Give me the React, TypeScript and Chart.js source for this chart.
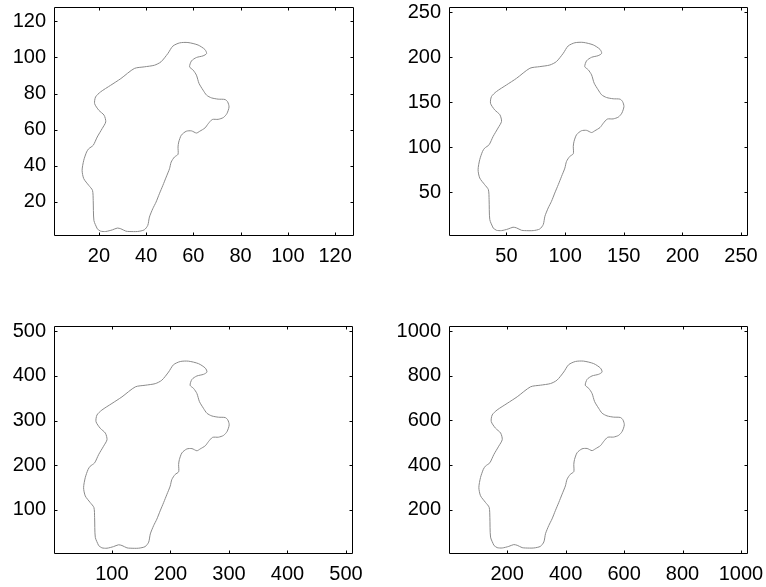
import React, { useEffect, useRef } from "react";
import { Chart, registerables } from "chart.js";

Chart.register(...registerables);

// Outline, in the units of the first (128 x 128) panel
const CONTOUR_X = [19.3, 17.9, 17.6, 17.3, 15.7, 13.6, 12.9, 13.6, 14.8, 15.7, 17.6, 19.3, 21.4, 22.9, 22.2, 20.0, 18.2, 18.6, 20.7, 25.0, 29.3, 35.0, 39.2, 43.5, 46.3, 49.2, 51.3, 54.2, 57.7, 62.0, 64.9, 65.6, 64.1, 61.3, 59.2, 58.4, 59.9, 61.3, 62.4, 64.1, 65.6, 67.7, 70.5, 73.4, 74.5, 75.1, 74.2, 72.7, 70.5, 68.0, 66.3, 64.9, 62.7, 61.3, 59.2, 57.0, 54.9, 53.8, 53.5, 53.5, 52.0, 50.6, 49.9, 48.5, 47.1, 45.6, 44.2, 42.8, 41.4, 40.7, 39.2, 36.4, 32.8, 31.4, 29.3, 27.8, 25.7, 22.9, 20.7];
const CONTOUR_Y = [5.0, 9.6, 20.7, 26.3, 29.1, 32.8, 37.4, 43.0, 47.6, 49.4, 51.3, 55.9, 60.6, 64.3, 68.0, 70.7, 74.4, 78.1, 80.9, 84.6, 88.3, 93.9, 94.8, 95.7, 97.6, 102.2, 106.3, 108.1, 108.3, 106.9, 104.4, 102.2, 100.9, 100.0, 98.1, 94.8, 93.0, 90.2, 85.6, 81.9, 79.1, 77.6, 76.9, 76.7, 75.4, 72.6, 68.9, 66.7, 65.7, 65.6, 63.3, 60.9, 59.1, 58.1, 59.3, 59.1, 56.9, 53.1, 50.4, 46.3, 44.8, 42.0, 38.3, 33.7, 29.1, 24.4, 19.8, 16.1, 11.5, 6.9, 4.4, 3.5, 3.5, 3.7, 5.0, 5.4, 4.4, 3.5, 3.7];

// Each panel shows the same outline at a different resolution
const PANEL_SCALES = [1, 2, 4, 8];
const AXIS_MIN = [1, 1, 1, 1];
const AXIS_MAX = [128, 256, 512, 1024];
const X_TICKS = [
  [20, 40, 60, 80, 100, 120],
  [50, 100, 150, 200, 250],
  [100, 200, 300, 400, 500],
  [200, 400, 600, 800, 1000],
];
const Y_TICKS = [
  [20, 40, 60, 80, 100, 120],
  [50, 100, 150, 200, 250],
  [100, 200, 300, 400, 500],
  [200, 400, 600, 800, 1000],
];

// Layout (pixels)
const PANELS = [
  { left: 0, top: 0, w: 383, h: 290, aL: 54, aT: 7, aR: 354, aB: 236 },
  { left: 383, top: 0, w: 383, h: 290, aL: 449, aT: 7, aR: 748, aB: 236 },
  { left: 0, top: 290, w: 383, h: 330, aL: 54, aT: 326, aR: 353, aB: 554 },
  { left: 383, top: 290, w: 383, h: 330, aL: 449, aT: 326, aR: 748, aB: 554 },
];
const X_AXIS_H = 50;
const FONT = { family: "'Liberation Sans', Arial, Helvetica, sans-serif", size: 20 };
const TICK_LEN = 3;

const boxPlugin = {
  id: "matlabBox",
  afterDraw(chart: any) {
    const { ctx, chartArea: a, scales } = chart;
    const L = Math.round(a.left) + 0.5;
    const T = Math.round(a.top) + 0.5;
    const R = Math.round(a.right) - 0.5;
    const B = Math.round(a.bottom) - 0.5;
    ctx.save();
    ctx.strokeStyle = "#000";
    ctx.lineWidth = 1;
    ctx.beginPath();
    ctx.rect(L, T, R - L, B - T);
    ctx.stroke();
    ctx.beginPath();
    for (const t of scales.x.ticks) {
      const px = Math.round(scales.x.getPixelForValue(t.value)) + 0.5;
      ctx.moveTo(px, B);
      ctx.lineTo(px, B - TICK_LEN);
      ctx.moveTo(px, T);
      ctx.lineTo(px, T + TICK_LEN);
    }
    for (const t of scales.y.ticks) {
      const py = Math.round(scales.y.getPixelForValue(t.value)) + 0.5;
      ctx.moveTo(L, py);
      ctx.lineTo(L + TICK_LEN, py);
      ctx.moveTo(R, py);
      ctx.lineTo(R - TICK_LEN, py);
    }
    ctx.stroke();
    ctx.restore();
  },
};

function Panel({ index }: { index: number }) {
  const ref = useRef<HTMLCanvasElement | null>(null);
  const p = PANELS[index];
  useEffect(() => {
    if (!ref.current) return;
    const s = PANEL_SCALES[index];
    const pts = CONTOUR_X.map((x, j) => ({ x: x * s, y: CONTOUR_Y[j] * s }));
    pts.push({ ...pts[0] });
    const yAxisW = p.aL - p.left;
    const chart = new Chart(ref.current, {
      type: "scatter",
      data: {
        datasets: [
          {
            data: pts,
            showLine: true,
            borderColor: "#8a8a8a",
            borderWidth: 1,
            pointRadius: 0,
            tension: 0.25,
            fill: false,
          },
        ],
      },
      options: {
        animation: false,
        responsive: false,
        events: [],
        layout: {
          padding: {
            left: 0,
            top: p.aT - p.top,
            right: p.left + p.w - p.aR,
            bottom: p.top + p.h - p.aB - X_AXIS_H,
          },
        },
        plugins: { legend: { display: false }, tooltip: { enabled: false } },
        scales: {
          x: {
            type: "linear",
            min: AXIS_MIN[index],
            max: AXIS_MAX[index],
            grid: { display: false },
            border: { display: false },
            ticks: {
              color: "#000",
              font: FONT,
              padding: 0,
              maxRotation: 0,
              autoSkip: false,
              callback: (v: any) => String(v),
            },
            afterBuildTicks: (sc: any) => {
              sc.ticks = X_TICKS[index].map((v) => ({ value: v }));
            },
            afterFit: (sc: any) => {
              sc.height = X_AXIS_H;
              sc.paddingLeft = 0;
              sc.paddingRight = 0;
              sc.paddingTop = 0;
              sc.paddingBottom = 0;
            },
          },
          y: {
            type: "linear",
            min: AXIS_MIN[index],
            max: AXIS_MAX[index],
            grid: { display: false },
            border: { display: false },
            ticks: {
              color: "#000",
              font: FONT,
              padding: 0,
              autoSkip: false,
              callback: (v: any) => String(v),
            },
            afterBuildTicks: (sc: any) => {
              sc.ticks = Y_TICKS[index].map((v) => ({ value: v }));
            },
            afterFit: (sc: any) => {
              sc.width = yAxisW;
              sc.paddingLeft = 0;
              sc.paddingRight = 0;
              sc.paddingTop = 0;
              sc.paddingBottom = 0;
            },
          },
        },
      } as any,
      plugins: [boxPlugin],
    });
    return () => chart.destroy();
  }, [index]);
  return (
    <canvas
      ref={ref}
      width={p.w}
      height={p.h}
      style={{ position: "absolute", left: p.left, top: p.top, width: p.w, height: p.h }}
    />
  );
}

export default function App() {
  return (
    <div
      style={{
        position: "absolute",
        left: 0,
        top: 0,
        width: 766,
        height: 587,
        background: "#fff",
        overflow: "hidden",
      }}
    >
      {PANEL_SCALES.map((_, i) => (
        <Panel key={i} index={i} />
      ))}
    </div>
  );
}
